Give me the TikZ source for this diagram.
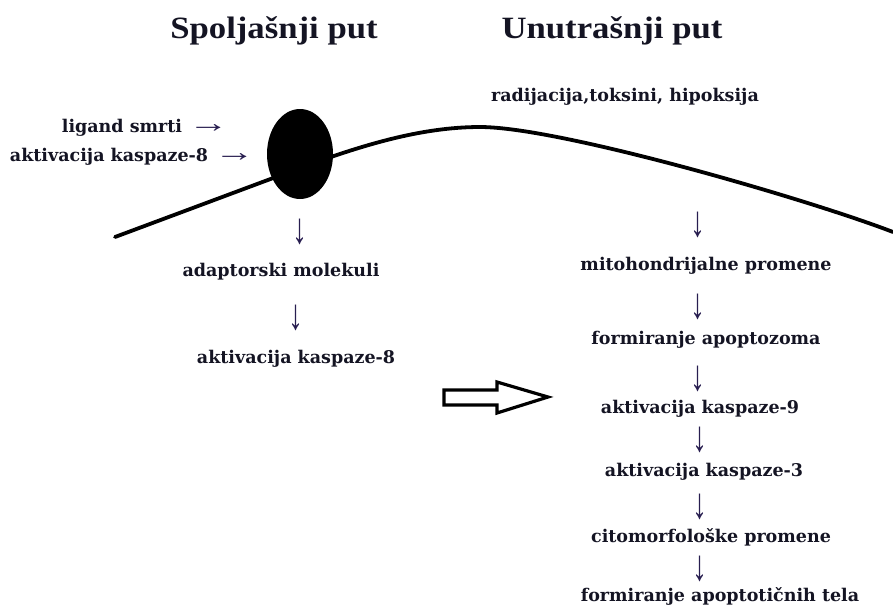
\documentclass[tikz,border=0pt]{standalone}
\usepackage{fontspec}
\usetikzlibrary{shapes.geometric}
\setmainfont{Liberation Serif}
\newfontfamily\bodyfont{DejaVu Serif}
\newfontfamily\headfont{Liberation Serif}[FakeStretch=1.12]
\newfontfamily\arrfont{Liberation Serif}
\definecolor{ink}{RGB}{20,20,35}
\definecolor{arr}{RGB}{40,30,80}
\newcommand{\rarr}{{\arrfont\mdseries\fontsize{28}{28}\selectfont\color{arr}\raisebox{0.5pt}{\scalebox{1.45}[1]{→}}}}
\newcommand{\darrow}{\scalebox{1}[1.45]{↓}}
\begin{document}
\begin{tikzpicture}[x=1pt,y=-1pt,
  txt/.style={font=\bodyfont\bfseries\fontsize{17.5}{20}\selectfont, text=ink, inner sep=0pt},
  head/.style={font=\headfont\bfseries\fontsize{31}{34}\selectfont, text=ink, inner sep=0pt},
  darr/.style={font=\arrfont\fontsize{30}{30}\selectfont, text=arr, inner sep=0pt},
  mem/.style={line width=3.8pt, draw=black, line cap=round},
  bigarr/.style={line width=3.2pt, draw=black, fill=white, line join=miter}
]
\useasboundingbox (0,0) rectangle (893,606);

% membrane
\coordinate (m0) at (115,237);
\coordinate (m1) at (300,168);
\coordinate (m2) at (480,127);
\coordinate (m3) at (893,232);
\draw[mem] (m0) -- (m1) .. controls (360,146) and (420,127) .. (m2)
  .. controls (560,127) and (810,200) .. (m3);

% receptor
\node[ellipse, fill=black, minimum width=66, minimum height=90, inner sep=0pt] (rec) at (300,154) {};

% headings
\node[head] (h1) at (274,31) {Spoljašnji put};
\node[head] (h2) at (612,31) {Unutrašnji put};

\node[txt] (rad) at (625,97) {radijacija,toksini, hipoksija};

\node[txt, anchor=east] (lig) at (229,128) {ligand smrti \rarr};
\node[txt, anchor=east] (akt) at (255,157) {aktivacija kaspaze-8 \rarr};

% left column
\node[darr] (la1) at (300,232) {\darrow};
\node[txt] (adap) at (281,272) {adaptorski molekuli};
\node[darr] (la2) at (296,318) {\darrow};
\node[txt] (k8) at (296,359) {aktivacija kaspaze-8};

% big hollow arrow
\draw[bigarr] (444,390) -- (497,390) -- (497,382) -- (548,397) -- (497,413) -- (497,405) -- (444,405) -- cycle;

% right column
\node[darr] (ra1) at (698,225) {\darrow};
\node[txt] (mito) at (706,266) {mitohondrijalne promene};
\node[darr] (ra2) at (698,307) {\darrow};
\node[txt] (apo) at (706,340) {formiranje apoptozoma};
\node[darr] (ra3) at (698,379) {\darrow};
\node[txt] (k9) at (700,409) {aktivacija kaspaze-9};
\node[darr] (ra4) at (700,440) {\darrow};
\node[txt] (k3) at (704,472) {aktivacija kaspaze-3};
\node[darr] (ra5) at (700,507) {\darrow};
\node[txt] (cit) at (711,537) {citomorfološke promene};
\node[darr] (ra6) at (700,569) {\darrow};
\node[txt] (tel) at (720,596) {formiranje apoptotičnih tela};
\end{tikzpicture}
\end{document}
